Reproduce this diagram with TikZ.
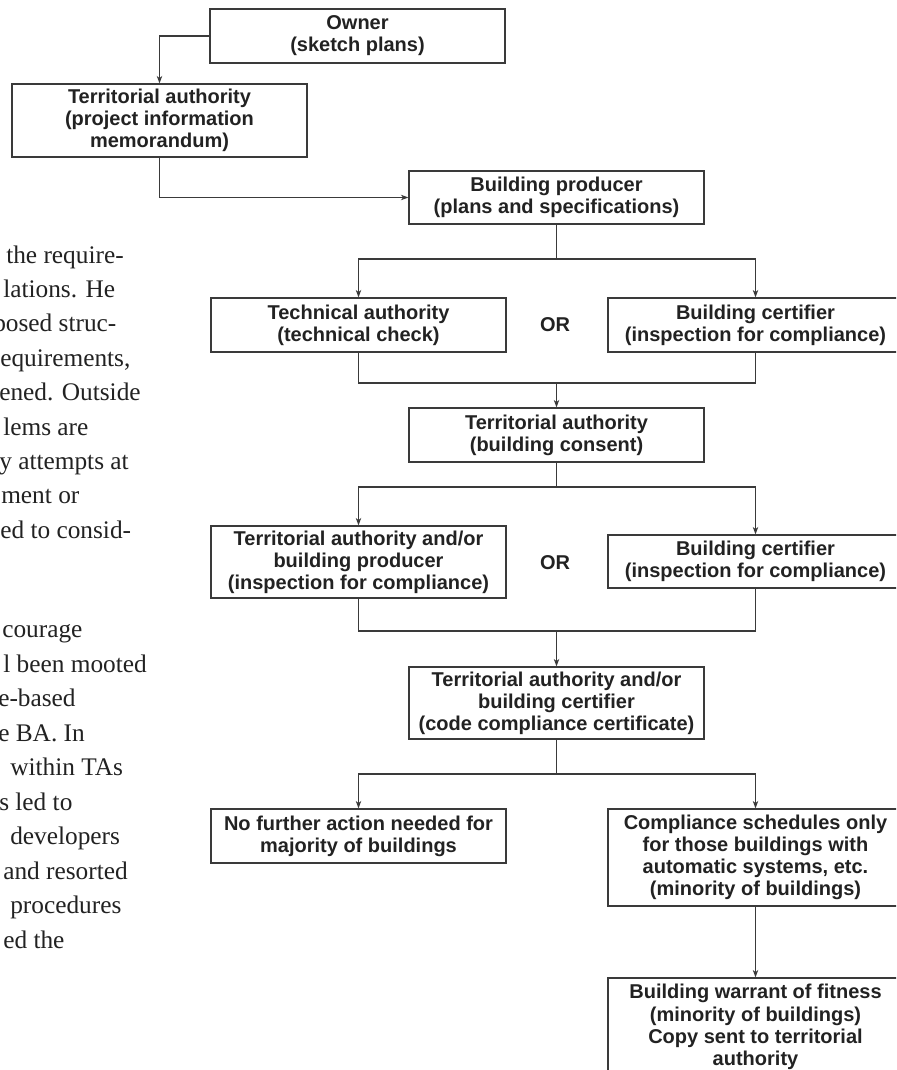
\documentclass[tikz,border=0pt]{standalone}
\usepackage{fontspec}
\setmainfont{Liberation Serif}
\newfontfamily\boxfont{Liberation Sans}
\usetikzlibrary{arrows.meta}
\definecolor{ink}{HTML}{222222}
\definecolor{rule}{HTML}{3A3A3A}

\begin{document}
\begin{tikzpicture}[x=0.75pt,y=-0.75pt,
  stage/.style={draw=rule, line width=0.9pt, minimum width=221.25pt,
    minimum height=#1*0.75pt, inner sep=0pt, align=center, text=ink,
    font=\boxfont\bfseries\fontsize{15}{16.6}\selectfont},
  choice/.style={inner sep=0pt, text=ink, font=\boxfont\bfseries\fontsize{15}{16.6}\selectfont},
  flow/.style={draw=rule, line width=0.9pt},
  arr/.style={flow, -{Stealth[length=5.5pt,width=4pt,inset=1.5pt]}},
  body/.style={anchor=base west, inner sep=0pt, text=ink, font=\fontsize{19}{23}\selectfont}]

\useasboundingbox (0,0) rectangle (896,1070);
\fill[white] (0,0) rectangle (896,1070);
\clip (0,0) rectangle (896,1070);

% running text of the page, cut off at the left margin
\foreach \y/\x/\t in {
  263/6/{the require-},
  297.4/3/{lations. He},
  331.8/-7/{posed struc-},
  366.2/0/{equirements,},
  400.6/-1/{ened. Outside},
  435/3/{lems are},
  469.4/-1/{y attempts at},
  503.8/1/{ment or},
  538.2/0/{ed to consid-},
  637.5/2/{courage},
  672/3/{l been mooted},
  706.5/-2/{e-based},
  741/-2/{e BA. In},
  775.5/10/{within TAs},
  810/-1/{s led to},
  844.5/10/{developers},
  879/3/{and resorted},
  913.5/10/{procedures},
  948/3/{ed the}}
  \node[body] at (\x,\y) {\t};

% process boxes
\node[stage=54] (owner) at (357.5,36) {Owner\\(sketch plans)};
\node[stage=73] (ta1) at (159.5,120.5) {Territorial authority\\(project information\\memorandum)};
\node[stage=53] (bp) at (556.5,197.5) {Building producer\\(plans and specifications)};
\node[stage=54] (tech) at (358.5,325) {Technical authority\\(technical check)};
\node[stage=54] (bc1) at (755.5,325) {Building certifier\\(inspection for compliance)};
\node[choice] (or1) at (555,325) {OR};
\node[stage=54] (ta2) at (556.5,435) {Territorial authority\\(building consent)};
\node[stage=72] (ta3) at (358.5,562) {Territorial authority and/or\\building producer\\(inspection for compliance)};
\node[stage=53] (bc2) at (755.5,561.5) {Building certifier\\(inspection for compliance)};
\node[choice] (or2) at (555,563) {OR};
\node[stage=72] (ta4) at (556.5,703) {Territorial authority and/or\\building certifier\\(code compliance certificate)};
\node[stage=54] (nofur) at (358.5,836) {No further action needed for\\majority of buildings};
\node[stage=97] (cs) at (755.5,857.5) {Compliance schedules only\\for those buildings with\\automatic systems, etc.\\(minority of buildings)};
\node[stage=98] (bwof) at (755.5,1027) {Building warrant of fitness\\(minority of buildings)\\Copy sent to territorial\\authority};

% junction points
\coordinate (s1) at (556.5,259);
\coordinate (m1) at (556.5,383);
\coordinate (s2) at (556.5,487);
\coordinate (m2) at (556.5,631);
\coordinate (s3) at (556.5,774);

% connectors
\draw[arr] (owner.west) -| (ta1.north);
\draw[arr] (ta1.south) |- (bp.west);

\draw[flow] (bp.south) -- (s1);
\draw[arr] (s1) -| (tech.north);
\draw[arr] (s1) -| (bc1.north);
\draw[flow] (tech.south) |- (m1) -| (bc1.south);
\draw[arr] (m1) -- (ta2.north);

\draw[flow] (ta2.south) -- (s2);
\draw[arr] (s2) -| (ta3.north);
\draw[arr] (s2) -| (bc2.north);
\draw[flow] (ta3.south) |- (m2) -| (bc2.south);
\draw[arr] (m2) -- (ta4.north);

\draw[flow] (ta4.south) -- (s3);
\draw[arr] (s3) -| (nofur.north);
\draw[arr] (s3) -| (cs.north);
\draw[arr] (cs.south) -- (bwof.north);
\end{tikzpicture}
\end{document}
